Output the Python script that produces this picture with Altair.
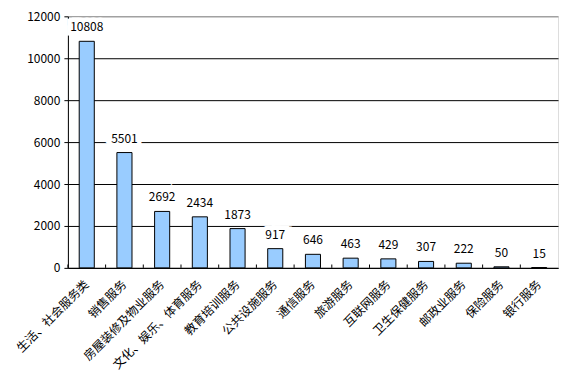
import altair as alt
import pandas as pd

categories = ["生活、社会服务类", "销售服务", "房屋装修及物业服务", "文化、娱乐、体育服务",
              "教育培训服务", "公共设施服务", "通信服务", "旅游服务", "互联网服务",
              "卫生保健服务", "邮政业服务", "保险服务", "银行服务"]
values = [10808, 5501, 2692, 2434, 1873, 917, 646, 463, 429, 307, 222, 50, 15]
y_ticks = [0, 2000, 4000, 6000, 8000, 10000, 12000]

df = pd.DataFrame({"cat": categories, "val": values})
FONT = "Noto Sans CJK SC"
W, H = 491, 252
STEP = W / 13.0

x_enc = alt.X("cat:N", sort=categories,
              scale=alt.Scale(paddingInner=0.6, paddingOuter=0.3),
              axis=alt.Axis(title=None, labelAngle=-45, labelFont=FONT, labelFontSize=12,
                            labelColor="black", domainColor="black", ticks=False,
                            labelPadding=14, labelAlign="right", labelBaseline="middle",
                            labelOverlap=False))
y_enc = alt.Y("val:Q", scale=alt.Scale(domain=[0, 12000]),
              axis=alt.Axis(title=None, values=y_ticks, format="d", labelFont=FONT, labelFontSize=12,
                            labelColor="black", domainColor="black", tickColor="black",
                            tickSize=4, labelPadding=4,
                            gridColor={"condition": {"test": "datum.value == 12000", "value": "#808080"},
                                       "value": "black"},
                            gridOpacity=1, gridWidth=1))

base = alt.Chart(df)
bars = base.mark_bar(fill="#99CCFF", stroke="black", strokeWidth=1).encode(x=x_enc, y=y_enc)
halo = base.mark_text(dy=-14, font=FONT, fontSize=12, stroke="white", strokeWidth=9,
                      color="white", baseline="middle").encode(
    x=alt.X("cat:N", sort=categories), y="val:Q", text=alt.Text("val:Q", format="d"))
labels = base.mark_text(dy=-14, font=FONT, fontSize=12, color="black", baseline="middle").encode(
    x=alt.X("cat:N", sort=categories), y="val:Q", text=alt.Text("val:Q", format="d"))
ticks = base.mark_rule(color="black", strokeWidth=1, xOffset=-STEP / 2).encode(
    x=alt.X("cat:N", sort=categories),
    y=alt.datum(0), y2=alt.datum(160))

chart = alt.layer(bars, halo, labels, ticks).properties(
    width=W, height=H,
    autosize=alt.AutoSizeParams(type="none"),
    padding={"left": 60, "top": 8, "right": 10, "bottom": 108},
).configure_view(stroke="#808080", strokeWidth=1).configure(background="white")

chart.save("out.html", embed_options={"renderer": "svg", "actions": False})
